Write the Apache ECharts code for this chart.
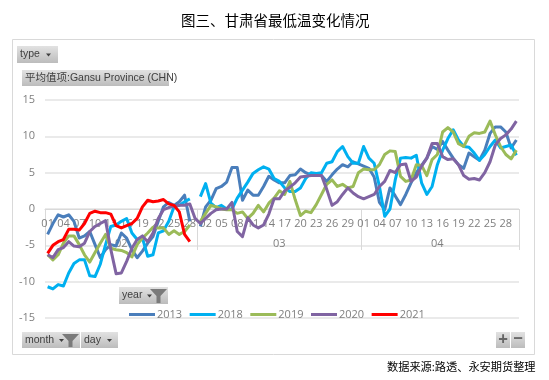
<!DOCTYPE html>
<html>
<head>
<meta charset="utf-8">
<style>
  html, body { margin: 0; padding: 0; background: #fff; }
  #chart { width: 549px; height: 380px; }
</style>
<script src="https://cdn.jsdelivr.net/npm/echarts@6/dist/echarts.min.js"></script>
</head>
<body>
<div id="chart"></div>
<script>
  // 2月按29天排(透视表里有闰年),非闰年2月29日留空
  const months = ['02', '03', '04'];
  const monthDays = [29, 31, 30];
  const yTicks = { min: -15, max: 15, interval: 5 };

  const v2013 = [-3.5, -2, -0.8, -1.1, -0.8, -1.7, -4, -3.7, -3.1, -4.9, -6.7, -5.6, -4.9, -5.1, -3.3, -4, -5.6, -6.7, -5.8, -4.7, -3.8, -1.7, 0.3, 0.9, 0.5, 1, 1.9, -1.7, null,
    -2.4, 0.3, 1.2, 2.8, 3.1, 3.7, 5.7, 5.7, 1.2, 2.6, 1.9, 1.9, 3.1, 4.5, 4, 3.6, 3.6, 4.6, 4.7, 5.5, 5, 4.7, 4.7, 4.6, 3.8, 4.7, 5.5, 6.1, 5.8, 6.5, 6.2,
    5.9, 5.6, 4.4, 0.9, -0.1, 2.9, 1.8, 0.6, 2, 3.6, 5, 6, 7, 8.6, 8.2, 9.3, 8.1, 7, 6.1, 5.6, 7.7, 7.2, 6.7, 8.1, 10.4, 11.3, 11.3, 10.6, 8.4, 9.5];
  const v2018 = [-10.7, -11, -10.4, -10.6, -8.8, -7.5, -7, -7, -9.2, -9.3, -7.6, -4.9, -2.4, -2.2, -1.7, -1.3, -3.3, -4.2, -4, -6.5, -6.3, -3.3, -3, -1.7, 0.3, 0.5, 1, 1.4, null,
    1.7, 3.5, 0.8, 0.2, 0.5, 0, 0, 1.5, 2.6, 3.7, 4.9, 5.4, 5.8, 5.5, 4.2, 3.8, 2.9, 2.4, 2.4, 2.9, 4.2, 5, 4.9, 5, 6.3, 6.5, 7.9, 8.6, 7.2, 6.3, 6.3,
    8.6, 7, 6.3, 3.1, -1, 0, 4, 7, 7.1, 7, 7.4, 3.6, 2, 3.1, 6.1, 8.1, 9.7, 10.9, 9.5, 8.6, 8.5, 7.7, 6.7, 7.5, 8.6, 9.5, 8.4, 8.6, 8.8, 7.4];
  const v2019 = [-6.3, -7, -6.3, -4.7, -3.7, -3.7, -4.9, -6.3, -7.3, -6, -4.7, -3.5, -5.4, -5.6, -5.7, -6, -6.6, -4.9, -4, -3.3, -2.5, -2.6, -2.6, -3.5, -3, -3.5, -3.1, -2.2, null,
    -1.7, -0.6, 0.5, 0.3, 0, -0.1, -0.1, -0.6, -0.4, -1.3, -0.6, 0.5, -0.4, 0.8, 1.5, 2.5, 2, 3.8, 1.3, -0.9, -0.3, -0.5, 0.6, 2, 3.4, 4, 3.1, 3.4, 2.9, 3.1, 5,
    5.5, 5.4, 5.4, 6.1, 7.5, 8, 7.9, 4.5, 3.8, 4, 6.1, 6, 4.6, 6.8, 7.5, 10.6, 11.2, 10.6, 9, 8.6, 10, 10.5, 10.4, 10.6, 12.1, 10.2, 8.6, 7.5, 6.9, 8.1];
  const v2020 = [-6.3, -6.7, -5.6, -5.3, -4.5, -5.1, -5.2, -4.7, -3.1, -2.4, -2, -1.6, -5.6, -8.9, -8.8, -7.2, -5.4, -4.2, -3.7, -4.5, -3.3, -1.3, -0.1, 0.2, 0.4, 0.5, 0.5, 0.7, -1.3,
    -2, -1.3, -0.6, -0.1, 0, 0, 0.9, -3.1, -3.8, -1.2, -2.2, -2.6, -2.2, -0.7, 1.4, 1.4, 2.5, 3, 3.6, 4.4, 4.5, 4.6, 4.6, 4.6, 2.7, 0.5, 1, 2, 2.9, 2.2, 1.7,
    1.4, 1.7, 2, 3.1, 3.8, 5.3, 5, 6.1, 6.2, 3.8, 4.4, 5.9, 7, 9, 9, 7.2, 6.8, 6.9, 6.1, 4.6, 4.1, 4.2, 4, 5, 6.5, 8.8, 9.7, 10.2, 11, 12.1];
  const v2021 = [-6.1, -5, -4.5, -4.2, -2.8, -2.8, -2.9, -2, -0.6, -0.3, -0.5, -0.5, -0.7, -2.3, -2.6, -2.3, -2, -1.3, 0.3, 1.2, 1, 1.1, 1.3, 0.7, 0.5, -0.4, -3.5, -4.5];

  const seriesNames = ['2013', '2018', '2019', '2020', '2021'];
  const seriesValues = [v2013, v2018, v2019, v2020, v2021];
  const seriesColors = ['#4a7ebb', '#00b0f0', '#9bbb59', '#8064a2', '#ff0000'];

  const gray = '#7f7f7f';
  const latin = '"Open Sans", "Noto Sans CJK SC", sans-serif';
  const btnFont = '"Liberation Sans", "Noto Sans CJK SC", sans-serif';

  // 横轴两层:日 + 月
  let dayLabels = [], monthLabels = [];
  months.forEach((m, k) => {
    for (let d = 1; d <= monthDays[k]; d++) {
      dayLabels.push((d < 10 ? '0' : '') + d);
      monthLabels.push(m);
    }
  });

  // 透视图的字段按钮
  function button(x, y, w, h, label, opts) {
    opts = opts || {};
    let els = [{
      type: 'rect',
      shape: { x: x, y: y, width: w, height: h },
      style: {
        fill: new echarts.graphic.LinearGradient(0, 0, 0, 1, [
          { offset: 0, color: '#e2e2e2' },
          { offset: 1, color: '#bcbcbc' }
        ])
      }
    }];
    if (label) {
      els.push({
        type: 'text',
        x: x + 3,
        y: y + h / 2,
        style: { text: label, fill: '#404040', font: '10.5px ' + btnFont, verticalAlign: 'middle' }
      });
    }
    if (opts.arrow) {
      els.push({
        type: 'polygon',
        shape: { points: [[opts.arrow, y + h / 2 - 1], [opts.arrow + 5, y + h / 2 - 1], [opts.arrow + 2.5, y + h / 2 + 2]] },
        style: { fill: '#404040' }
      });
    }
    if (opts.funnel) {
      let f = opts.funnel;
      els.push({
        type: 'polygon',
        shape: { points: [[f, y + 2], [f + 17, y + 2], [f + 10.5, y + 9], [f + 10.5, y + h - 1], [f + 6.5, y + h - 1], [f + 6.5, y + 9]] },
        style: { fill: '#7a7a7a' }
      });
    }
    return els;
  }

  const myChart = echarts.init(document.getElementById('chart'));
  myChart.setOption({
    animation: false,
    backgroundColor: '#fff',
    textStyle: { fontFamily: latin },
    title: [
      {
        text: '图三、甘肃省最低温变化情况',
        left: 176, top: 8,
        textStyle: { fontFamily: '"Noto Sans CJK SC"', fontSize: 14.5, fontWeight: 'normal', color: '#000' }
      },
      {
        text: '数据来源:路透、永安期货整理',
        left: 382, top: 356,
        textStyle: { fontFamily: '"Noto Sans CJK SC"', fontSize: 11.2, fontWeight: 'normal', color: '#000' }
      }
    ],
    legend: {
      left: 124, top: 304,
      icon: 'rect',
      itemWidth: 26, itemHeight: 3,
      itemGap: 7.5,
      textStyle: { color: gray, fontSize: 11, fontFamily: latin, padding: [0, 0, 0, -3] },
      data: seriesNames
    },
    grid: { left: 45, right: 30, top: 100, bottom: 62 },
    xAxis: [
      {
        type: 'category',
        data: dayLabels,
        position: 'bottom',
        offset: -109,
        axisLine: { onZero: false, lineStyle: { color: '#d9d9d9', width: 1 } },
        axisTick: { show: false },
        axisLabel: { color: gray, fontSize: 11, interval: 2, margin: 9, fontFamily: latin }
      },
      {
        type: 'category',
        data: monthLabels,
        position: 'bottom',
        offset: -109,
        axisLine: { show: false, onZero: false },
        axisTick: {
          show: true, length: 41,
          interval: i => i === 0 || i === 29 || i === 60,
          lineStyle: { color: '#d9d9d9', width: 1 }
        },
        axisLabel: {
          color: gray, fontSize: 11, margin: 29, fontFamily: latin,
          interval: i => i === 14 || i === 44 || i === 74
        }
      }
    ],
    yAxis: {
      type: 'value',
      min: yTicks.min, max: yTicks.max, interval: yTicks.interval,
      axisLine: { show: false },
      axisTick: { show: false },
      axisLabel: { color: gray, fontSize: 11, margin: 10, fontFamily: latin },
      splitLine: { lineStyle: { color: '#e3e3e3', width: 1.5 } }
    },
    series: seriesNames.map((name, k) => ({
      name: name,
      type: 'line',
      data: seriesValues[k],
      showSymbol: false,
      connectNulls: false,
      lineStyle: { width: 3, color: seriesColors[k], join: 'round' },
      itemStyle: { color: seriesColors[k] }
    })),
    graphic: [
      {
        type: 'rect', silent: true, z: -1,
        shape: { x: 12.5, y: 39.5, width: 522, height: 315 },
        style: { fill: 'none', stroke: '#d9d9d9', lineWidth: 1 }
      }
    ].concat(
      button(17, 46, 41, 17, 'type', { arrow: 46 }),
      button(22, 70, 147, 16, '平均值项:Gansu Province (CHN)'),
      button(119, 287, 49, 17, 'year', { arrow: 147, funnel: 150 }),
      button(22, 332, 58, 16, 'month', { arrow: 59, funnel: 62 }),
      button(81, 332, 37, 16, 'day', { arrow: 107 }),
      button(496, 332, 14, 16, ''),
      button(511, 332, 14, 16, ''),
      [
        { type: 'text', x: 503, y: 340, style: { text: '+', fill: '#666', font: 'bold 17px ' + latin, align: 'center', verticalAlign: 'middle' } },
        { type: 'text', x: 518, y: 339, style: { text: '−', fill: '#666', font: 'bold 17px ' + latin, align: 'center', verticalAlign: 'middle' } }
      ]
    )
  });
</script>
</body>
</html>
